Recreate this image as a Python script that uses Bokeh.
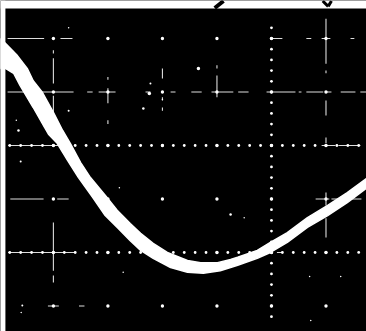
from bokeh.plotting import figure
from bokeh.embed import file_html
from bokeh.resources import INLINE
from bokeh.models import Range1d

# Oscilloscope trace outline, in screen divisions (origin where the two dotted axes cross)
upper_x = [-4.97, -4.88, -4.66, -4.48, -4.37, -4.20, -4.0, -3.83, -3.69, -3.50, -3.32, -3.05, -2.83, -2.59, -2.40, -2.17, -1.91, -1.54, -1.30, -0.99, -0.75, -0.62, -0.26, -0.02, 0.29, 0.66, 1.03, 1.39, 1.74]
upper_y = [2.0, 1.91, 1.68, 1.44, 1.21, 0.99, 0.62, 0.28, 0.04, -0.32, -0.60, -0.93, -1.21, -1.46, -1.64, -1.83, -2.0, -2.15, -2.19, -2.19, -2.13, -2.09, -1.96, -1.81, -1.63, -1.35, -1.12, -0.88, -0.62]
lower_x = [1.74, 1.39, 1.03, 0.66, 0.29, -0.02, -0.26, -0.62, -0.94, -1.25, -1.54, -1.85, -2.17, -2.40, -2.59, -2.81, -3.05, -3.28, -3.54, -3.74, -3.93, -4.09, -4.18, -4.37, -4.61, -4.73, -4.88, -4.97]
lower_y = [-0.80, -1.07, -1.31, -1.53, -1.81, -2.0, -2.11, -2.24, -2.34, -2.39, -2.37, -2.28, -2.11, -1.96, -1.78, -1.55, -1.31, -0.97, -0.60, -0.28, 0.04, 0.21, 0.37, 0.71, 1.12, 1.35, 1.44, 1.44]

grid_x = [-4, -3, -2, -1, 0, 1]
grid_y = [2, 1, 0, -1, -2, -3]
dotted_rows = [0, -2]
dotted_column = 0
minor_step = 0.2

# Surviving fragments of the graticule: row -> spans in x, column -> spans in y
row_spans = {
    2: [(-4.84, -4.17), (-3.87, -3.65), (0, 0.2), (0.64, 0.73), (0.92, 1.08), (1.45, 1.52)],
    1: [(-4.84, -4.53), (-4.24, -3.63), (-3.38, -3.28), (-3.17, -2.86), (-2.31, -2.22), (-1.85, -1.76),
        (-1.47, -1.28), (-1.10, -0.70), (-0.61, -0.42), (-0.09, 0.44), (0.5, 0.55), (0.64, 0.95),
        (0.99, 1.10), (1.27, 1.54), (1.63, 1.74)],
    0: [(-4.83, -3.9), (0.92, 1.17), (1.23, 1.63)],
    -1: [(-4.79, -4.18), (-3.93, -3.72), (0.81, 1.06), (1.1, 1.65)],
    -2: [(-4.83, -3.6), (0.1, 0.2)],
    -3: [(-3.53, -3.43), (-4.1, -3.9)],
}
column_spans = {
    -4: [(1.78, 1.72), (1.63, 1.16), (0.93, 0.52), (-1.44, -2.34), (-2.43, -2.56)],
    -3: [(1.28, 1.23), (1.07, 0.79), (0.4, 0.47)],
    -2: [(1.44, 1.25), (0.90, 0.84), (0.71, 0.65)],
    -1: [(1.5, 1.44), (1.31, 0.90)],
    1: [(2.37, 1.53), (1.40, 1.35), (0.84, 0.56), (0.15, 0.04), (-0.88, -1.12), (-1.36, -1.72)],
}
speck_x = [-1.34, -2.24, -2.35, -2.22, -2.0, -3.72, -3.72, -4.68, -4.64, -4.6, -2.79, -2.72, -0.48, -0.75, -0.5, 0.7, 1.27, -4.57, -4.59, 0.72]
speck_y = [1.44, 0.97, 0.69, 1.16, 0.86, 2.2, 0.65, 0.47, 0.28, -0.3, -0.79, -2.37, -2.17, -1.29, -1.35, -2.45, -2.45, -2.99, -3.12, -3.27]
speck_size = [3.5, 3.5, 2.5, 2, 1.5, 1.5, 2, 1.5, 2.5, 2, 1.5, 1.5, 1.5, 2.5, 1.5, 1.5, 1.5, 2, 1.5, 1.5]

x_left, x_right = -4.97, 1.743
y_bottom, y_top = -3.477, 2.71
border_x = -4.88
border_y = 2.56

p = figure(width=366, height=331, output_backend="svg", toolbar_location=None,
           x_range=Range1d(x_left, x_right), y_range=Range1d(y_bottom, y_top),
           x_axis_type=None, y_axis_type=None, min_border=0, outline_line_color=None,
           background_fill_color="black", border_fill_color="white")
p.grid.visible = False
p.styles = {"position": "absolute", "left": "0px", "top": "0px"}

xs, ys = [], []
for row, spans in row_spans.items():
    for a, b in spans:
        xs.append([a, b]); ys.append([row, row])
for col, spans in column_spans.items():
    for a, b in spans:
        xs.append([col, col]); ys.append([a, b])
p.multi_line(xs, ys, line_color="#dddddd", line_width=1.1)

dot_x, dot_y = [], []
for row in dotted_rows:
    for i in range(-24, 9):
        dot_x.append(i * minor_step); dot_y.append(row)
for i in range(-16, 12):
    dot_x.append(dotted_column); dot_y.append(i * minor_step)
p.scatter(dot_x, dot_y, size=2.8, marker="circle", color="white", line_color=None)

cross_x = [x for x in grid_x for y in grid_y]
cross_y = [y for x in grid_x for y in grid_y]
p.scatter(cross_x, cross_y, size=3.4, marker="circle", color="white", line_color=None)
p.scatter(speck_x, speck_y, size=speck_size, marker="circle", color="white", line_color=None)

# the tube's pale surround and the two nicks in it
p.quad(left=[x_left, x_left], right=[x_right, border_x], bottom=[border_y, y_bottom], top=[y_top, y_top],
       color="white", line_color=None)
p.line([-1.04, -0.88], [2.57, 2.7], line_color="black", line_width=4)
p.line([0.94, 1.04], [2.7, 2.6], line_color="black", line_width=3)
p.line([1.04, 1.1], [2.6, 2.7], line_color="black", line_width=3)

p.patch(upper_x + lower_x, upper_y + lower_y, color="white", line_color="white", line_width=1.5)

open("out.html", "w").write(file_html(p, INLINE))
